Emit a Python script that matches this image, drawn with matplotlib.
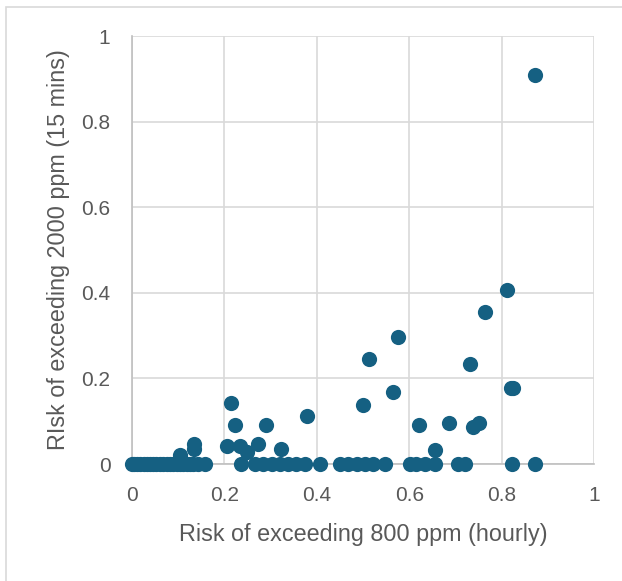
import numpy as np
import matplotlib
matplotlib.use("Agg")
import matplotlib.pyplot as plt
from matplotlib.patches import Rectangle

# points with a non-zero 15 min risk
x_pos = [0.872, 0.812, 0.763, 0.576, 0.513, 0.732, 0.820, 0.824, 0.566, 0.499,
         0.214, 0.378, 0.222, 0.289, 0.622, 0.687, 0.738, 0.750, 0.135, 0.135,
         0.104, 0.206, 0.234, 0.249, 0.273, 0.323, 0.656]
y_pos = [0.909, 0.407, 0.354, 0.296, 0.245, 0.234, 0.178, 0.177, 0.168, 0.137,
         0.143, 0.112, 0.090, 0.091, 0.091, 0.095, 0.087, 0.095, 0.046, 0.036,
         0.022, 0.042, 0.041, 0.029, 0.047, 0.034, 0.033]

# points sitting on zero
x_zero = [0.0, 0.005, 0.010, 0.017, 0.025, 0.032, 0.040, 0.046, 0.053, 0.060,
          0.068, 0.075, 0.082, 0.089, 0.097, 0.104, 0.111, 0.118, 0.126, 0.133,
          0.143, 0.158, 0.237, 0.266, 0.284, 0.302, 0.320, 0.338, 0.356, 0.374,
          0.407, 0.450, 0.468, 0.486, 0.504, 0.522, 0.548, 0.602, 0.615, 0.634,
          0.656, 0.706, 0.721, 0.822, 0.872]
y_zero = [0.0] * len(x_zero)

ticks = [0, 0.2, 0.4, 0.6, 0.8, 1]
tick_labels = ["0", "0.2", "0.4", "0.6", "0.8", "1"]

plt.rcParams["font.family"] = ["Liberation Sans", "DejaVu Sans"]
col = "#156082"
txt = "#595959"

fig = plt.figure(figsize=(6.22, 5.81), dpi=100)
fig.patches.append(Rectangle((6 / 622, -0.1), 1.2, 1 - 7 / 581 + 0.1,
                             transform=fig.transFigure, fill=False,
                             edgecolor="#d9d9d9", linewidth=1.2))
ax = fig.add_axes([132 / 622, 1 - 464 / 581, 462 / 622, 428 / 581])

ax.scatter(x_zero + x_pos, y_zero + y_pos, s=120, color=col, linewidths=0,
           zorder=3, clip_on=False)

ax.set_xlim(0, 1)
ax.set_ylim(0, 1)
ax.set_xticks(ticks)
ax.set_xticklabels(tick_labels)
ax.set_yticks(ticks)
ax.set_yticklabels(tick_labels)
ax.grid(True, color="#d9d9d9", linewidth=1.2)
ax.set_axisbelow(True)
for side in ["top", "right"]:
    ax.spines[side].set_visible(False)
for side in ["left", "bottom"]:
    ax.spines[side].set_color("#bfbfbf")
    ax.spines[side].set_linewidth(1.2)
ax.tick_params(length=0, labelsize=15, labelcolor=txt, pad=15.5)

ax.set_xlabel("Risk of exceeding 800 ppm (hourly)", fontsize=16.8, color=txt,
              labelpad=13)
ax.set_ylabel("RIsk of exceeding 2000 ppm (15 mins)", fontsize=16.8, color=txt,
              labelpad=8)

fig.savefig("out.png", dpi=100)
